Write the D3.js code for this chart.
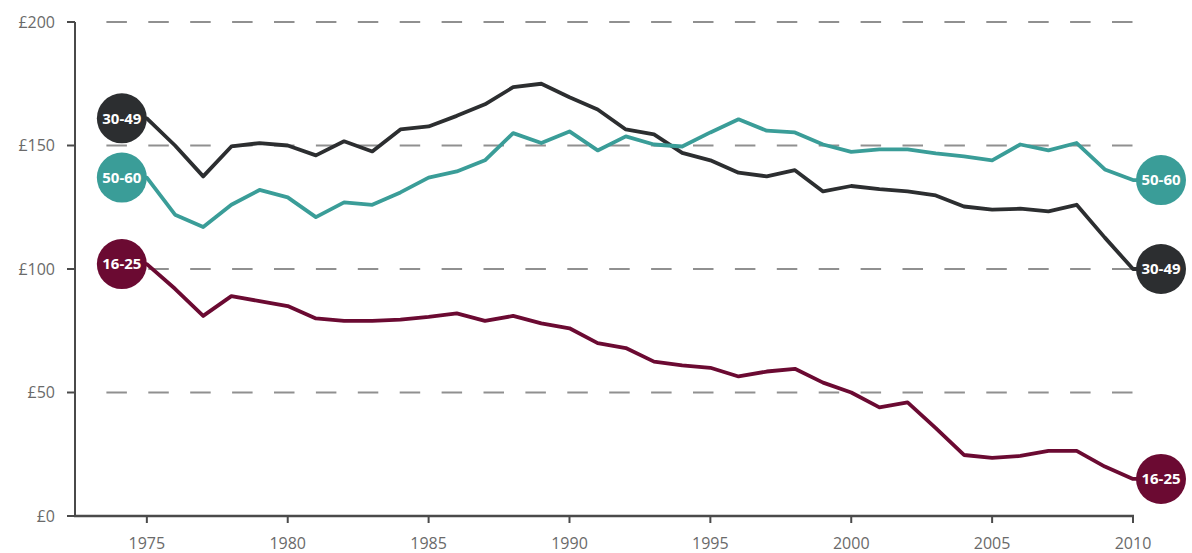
<!DOCTYPE html>
<html>
<head>
<meta charset="utf-8">
<script src="https://cdn.jsdelivr.net/npm/d3@7"></script>
<style>
  body { margin: 0; background: #fff; }
  svg { display: block; font-family: "Open Sans", sans-serif; }
</style>
</head>
<body>
<svg id="chart" width="1192" height="553"></svg>
<script>
// years 1975-2010
var years = d3.range(1975, 2011);

var age1625 = [102, 92, 81, 89, 87, 85, 80, 79, 79, 79.5, 80.6, 82, 79, 81, 78, 76, 70, 68,
               62.5, 61, 60, 56.5, 58.5, 59.6, 54, 50, 44, 46, 35.6, 24.7, 23.5, 24.3, 26.4, 26.4, 20, 15];
var age3049 = [161, 150, 137.5, 149.6, 151, 150, 146, 151.7, 147.6, 156.5, 157.7, 162, 166.7, 173.6, 175, 169.5,
               164.6, 156.5, 154.5, 147, 144, 139, 137.5, 140, 131.4, 133.6, 132.3, 131.4, 129.8, 125.3, 124, 124.4,
               123.3, 126, 112.7, 100];
var age5060 = [137, 122, 117, 126, 132, 129, 121, 127, 126, 131, 137, 139.5, 144, 155, 151, 155.7,
               148, 153.7, 150.4, 149.6, 155.3, 160.6, 156, 155.3, 150.4, 147.4, 148.4, 148.4, 146.8, 145.6, 144,
               150.4, 148, 151, 140.3, 136];

var seriesNames = ["16-25", "30-49", "50-60"];
var seriesColors = ["#6b0a32", "#2c2e30", "#3a9d98"];
var yTicks = [0, 50, 100, 150, 200];
var xTicks = [1975, 1980, 1985, 1990, 1995, 2000, 2005, 2010];

var svg = d3.select("#chart");

var x = d3.scaleLinear().domain([1972.45, 2010]).range([75, 1133]);
var y = d3.scaleLinear().domain([0, 200]).range([516, 22]);

// dashed gridlines
svg.selectAll(".grid")
  .data(yTicks.filter(function(d) { return d > 0; }))
  .enter().append("line")
  .attr("x1", x.range()[0] + 10)
  .attr("x2", 1136)
  .attr("y1", function(d) { return y(d); })
  .attr("y2", function(d) { return y(d); })
  .style("stroke", "#909090")
  .style("stroke-width", 2)
  .style("stroke-dasharray", "20.5,21.4")
  .style("stroke-dashoffset", 20.5);

// y axis
svg.append("line")
  .attr("x1", 75).attr("x2", 75)
  .attr("y1", y(200)).attr("y2", y(0))
  .style("stroke", "#4a4a4a").style("stroke-width", 2);
svg.selectAll(".ytick")
  .data(yTicks)
  .enter().append("line")
  .attr("x1", 67).attr("x2", 75)
  .attr("y1", function(d) { return y(d); })
  .attr("y2", function(d) { return y(d); })
  .style("stroke", "#4a4a4a").style("stroke-width", 2);
svg.selectAll(".ylab")
  .data(yTicks)
  .enter().append("text")
  .attr("x", 55)
  .attr("y", function(d) { return y(d); })
  .attr("dy", "0.35em")
  .attr("text-anchor", "end")
  .style("font-size", "16px")
  .style("fill", "#6a6a6a")
  .text(function(d) { return "£" + d; });

// x axis
svg.append("line")
  .attr("x1", 74).attr("x2", x(2010) + 1)
  .attr("y1", y(0)).attr("y2", y(0))
  .style("stroke", "#4a4a4a").style("stroke-width", 2.5);
svg.selectAll(".xtick")
  .data(xTicks)
  .enter().append("line")
  .attr("x1", function(d) { return x(d); })
  .attr("x2", function(d) { return x(d); })
  .attr("y1", y(0)).attr("y2", y(0) + 7)
  .style("stroke", "#4a4a4a").style("stroke-width", 2);
svg.selectAll(".xlab")
  .data(xTicks)
  .enter().append("text")
  .attr("x", function(d) { return x(d); })
  .attr("y", 549)
  .attr("text-anchor", "middle")
  .style("font-size", "16px")
  .style("fill", "#6a6a6a")
  .text(function(d) { return d; });

var allSeries = [age1625, age3049, age5060];

var line = d3.line()
  .x(function(d) { return d[0]; })
  .y(function(d) { return d[1]; });

for (var s = 0; s < allSeries.length; s++) {
  var vals = allSeries[s];
  var first = years[0], last = years[years.length - 1];
  // label bubbles sit just outside both ends of the line
  var ends = [[x(first) - 25, y(vals[0])], [x(last) + 28, y(vals[vals.length - 1])]];
  var pts = vals.map(function(d, i) { return [x(years[i]), y(d)]; });
  pts.unshift(ends[0]);
  pts.push(ends[1]);

  svg.append("path")
    .attr("d", line(pts))
    .style("fill", "none")
    .style("stroke", seriesColors[s])
    .style("stroke-width", 3.8)
    .style("stroke-linejoin", "round");

  for (var k = 0; k < ends.length; k++) {
    svg.append("circle")
      .attr("cx", ends[k][0])
      .attr("cy", ends[k][1])
      .attr("r", 25)
      .style("fill", seriesColors[s]);
    svg.append("text")
      .attr("x", ends[k][0])
      .attr("y", ends[k][1])
      .attr("dy", "0.36em")
      .attr("text-anchor", "middle")
      .style("font-size", "15px")
      .style("font-weight", "bold")
      .style("fill", "#fff")
      .text(seriesNames[s]);
  }
}
</script>
</body>
</html>
